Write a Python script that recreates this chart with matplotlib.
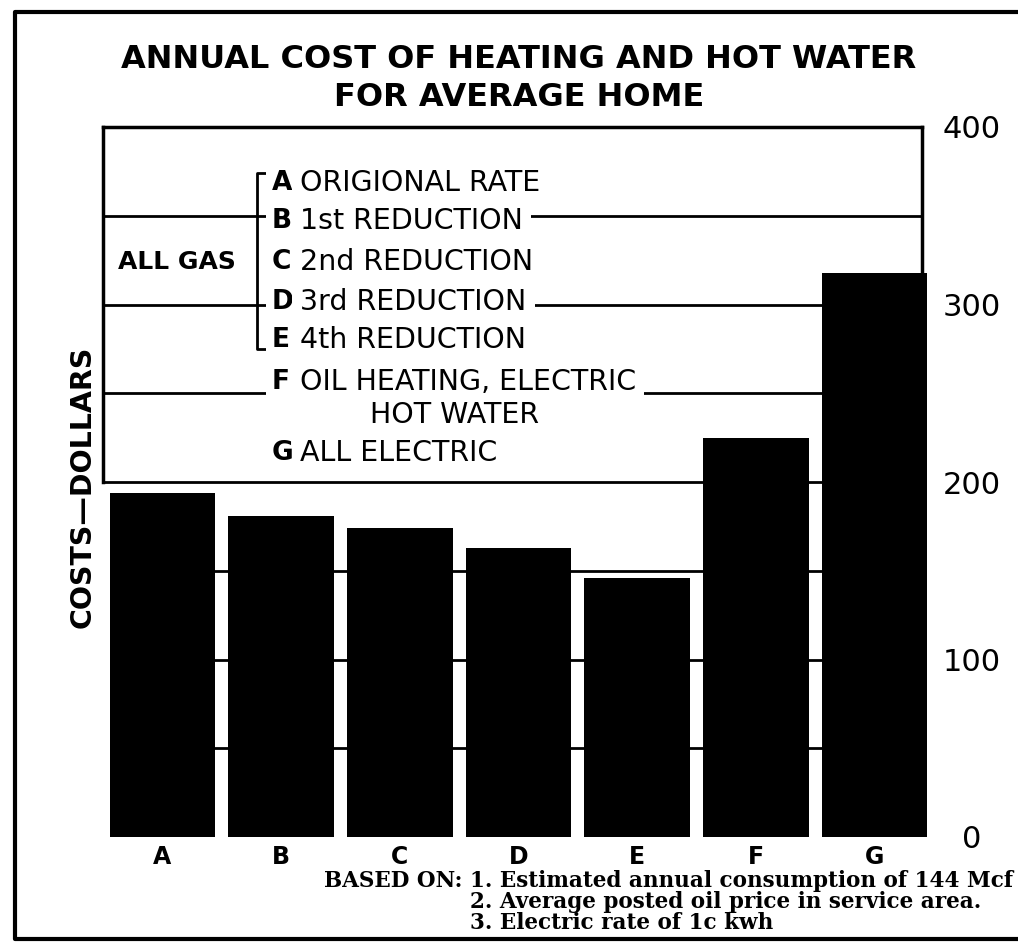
import matplotlib
matplotlib.use("Agg")
import matplotlib.pyplot as plt
from matplotlib.lines import Line2D

# data
categories = ['A', 'B', 'C', 'D', 'E', 'F', 'G']
costs = [194, 181, 174, 163, 146, 225, 318]
yticks = [0, 100, 200, 300, 400]
upper_grid = [200, 250, 300, 350]
lower_grid = [50, 100, 150]

legend_letters = ['A', 'B', 'C', 'D', 'E', 'F', '', 'G']
legend_labels = ['ORIGIONAL RATE', '1st REDUCTION', '2nd REDUCTION', '3rd REDUCTION',
                 '4th REDUCTION', 'OIL HEATING, ELECTRIC', 'HOT WATER', 'ALL ELECTRIC']
notes = ['1. Estimated annual consumption of 144 Mcf',
         '2. Average posted oil price in service area.',
         '3. Electric rate of 1c kwh']

W, H = 1018, 944
fig = plt.figure(figsize=(W / 100, H / 100), dpi=100)

def fx(px):
    return px / W

def fy(py):
    return 1 - py / H

# main axes in pixel box (103..922, 127..837)
ax = fig.add_axes([fx(103), fy(837), fx(922) - fx(103), fy(127) - fy(837)])
ax.set_xlim(-0.5, 6.4)
ax.set_ylim(0, 400)

bw = 0.89
for lv in upper_grid:
    ax.axhline(lv, color='black', lw=2, zorder=0)
# lower lines only show between the bars
ax.hlines(lower_grid, -bw / 2, 6.4, color='black', lw=2, zorder=0)

bars = ax.bar(range(len(categories)), costs, width=bw, color='black', zorder=2)
for b in bars:
    b.set_clip_on(False)

ax.spines['bottom'].set_visible(False)
for s in ['top', 'left', 'right']:
    ax.spines[s].set_linewidth(2.5)
ax.spines['left'].set_bounds(200, 400)
ax.spines['right'].set_bounds(200, 400)

ax.yaxis.tick_right()
ax.set_yticks(yticks)
ax.set_yticklabels([str(t) for t in yticks], fontsize=22, ha='center')
ax.tick_params(axis='y', length=0, pad=36)
ax.set_xticks(range(len(categories)))
ax.set_xticklabels(categories, fontsize=17, fontweight='heavy')
ax.tick_params(axis='x', length=0, pad=6)

# title
fig.text(fx(519), fy(60), 'ANNUAL COST OF HEATING AND HOT WATER', ha='center', va='center',
         fontsize=23, fontweight='bold')
fig.text(fx(519), fy(98), 'FOR AVERAGE HOME', ha='center', va='center',
         fontsize=23, fontweight='bold')

# y label
fig.text(fx(83), fy(487), 'COSTS\u2014DOLLARS', rotation=90, ha='center', va='center',
         fontsize=20.5, fontweight='bold')

# legend block inside the chart
box = dict(facecolor='white', edgecolor='none', pad=4)
leg_y = [183, 221, 262, 302, 340, 382, 415, 453]
for letter, label, yy in zip(legend_letters, legend_labels, leg_y):
    if letter:
        fig.text(fx(272), fy(yy), letter, ha='left', va='center', fontsize=19,
                 fontweight='bold', zorder=5, bbox=box)
        fig.text(fx(300), fy(yy), label, ha='left', va='center', fontsize=20.5, zorder=5,
                 bbox=dict(facecolor='white', edgecolor='none', pad=6))
    else:
        fig.text(fx(455), fy(yy), label, ha='center', va='center', fontsize=20.5, zorder=5)

fig.text(fx(118), fy(262), 'ALL GAS', ha='left', va='center', fontsize=18, fontweight='bold')

# bracket next to ALL GAS
bx, btop, bbot = 257, 173, 349
fig.add_artist(Line2D([fx(bx + 8), fx(bx), fx(bx), fx(bx + 8)],
                      [fy(btop), fy(btop), fy(bbot), fy(bbot)], color='black', lw=2))

# footnotes
fig.text(fx(463), fy(881), 'BASED ON:', ha='right', va='center', fontsize=15.5,
         family='DejaVu Serif', fontweight='bold')
for i, n in enumerate(notes):
    fig.text(fx(470), fy(881 + 21 * i), n, ha='left', va='center', fontsize=15.5,
             family='DejaVu Serif', fontweight='bold')

# outer frame
fig.add_artist(Line2D([fx(W), fx(15), fx(15), fx(W)], [fy(12), fy(12), fy(939), fy(939)],
                      color='black', lw=3))

fig.savefig('out.png', dpi=100, facecolor='white')
